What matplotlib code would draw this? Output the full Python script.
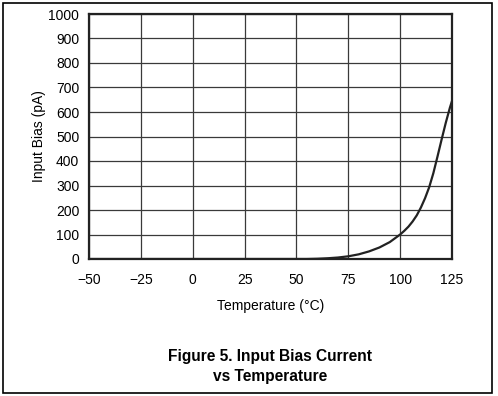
import matplotlib
matplotlib.use("Agg")
import matplotlib.pyplot as plt
from matplotlib.patches import Rectangle

# Input bias current vs temperature
temps = [-50, 0, 50, 55, 60, 65, 70, 75, 80, 85, 90, 95, 100, 102, 104, 106, 108, 110,
         112, 114, 116, 118, 120, 122, 124, 125]
bias_pa = [0, 0, 0, 0, 1, 3, 6, 11, 19, 31, 47, 69, 100, 115, 132, 153, 178, 210,
           248, 293, 350, 418, 488, 556, 618, 645]

x_ticks = [-50, -25, 0, 25, 50, 75, 100, 125]
y_ticks = list(range(0, 1001, 100))

plt.rcParams['font.family'] = ['Liberation Sans', 'DejaVu Sans']

fig = plt.figure(figsize=(4.98, 3.96), dpi=100)
ax = fig.add_axes([89 / 498, 1 - 259 / 396, 363 / 498, 245 / 396])

ax.plot(temps, bias_pa, color='#222222', linewidth=1.6, zorder=3)

ax.set_xlim(-50, 125)
ax.set_ylim(0, 1000)
ax.set_xticks(x_ticks)
ax.set_yticks(y_ticks)
ax.set_xticklabels([f"{t:d}".replace('-', '\u2212') for t in x_ticks])
ax.tick_params(length=0, labelsize=10, pad=7)
ax.tick_params(axis='x', pad=10)
ax.grid(True, color='#3a3a3a', linewidth=0.9)
for s in ax.spines.values():
    s.set_linewidth(1.6)
    s.set_color('#222222')

ax.set_xlabel('Temperature (\u00b0C)', fontsize=10, labelpad=9)
ax.set_ylabel('Input Bias (pA)', fontsize=10, labelpad=2)

fig.text(270 / 498, 1 - 356 / 396, 'Figure 5. Input Bias Current', ha='center', va='center',
         fontsize=11.2, fontweight='bold')
fig.text(270 / 498, 1 - 377 / 396, 'vs Temperature', ha='center', va='center',
         fontsize=11.2, fontweight='bold')

# outer frame around the figure
fig.patches.append(Rectangle((3 / 498, 1 - 393 / 396), 489 / 498, 390 / 396,
                             transform=fig.transFigure, fill=False,
                             edgecolor='black', linewidth=1.2))

fig.savefig('out.png', dpi=100)
